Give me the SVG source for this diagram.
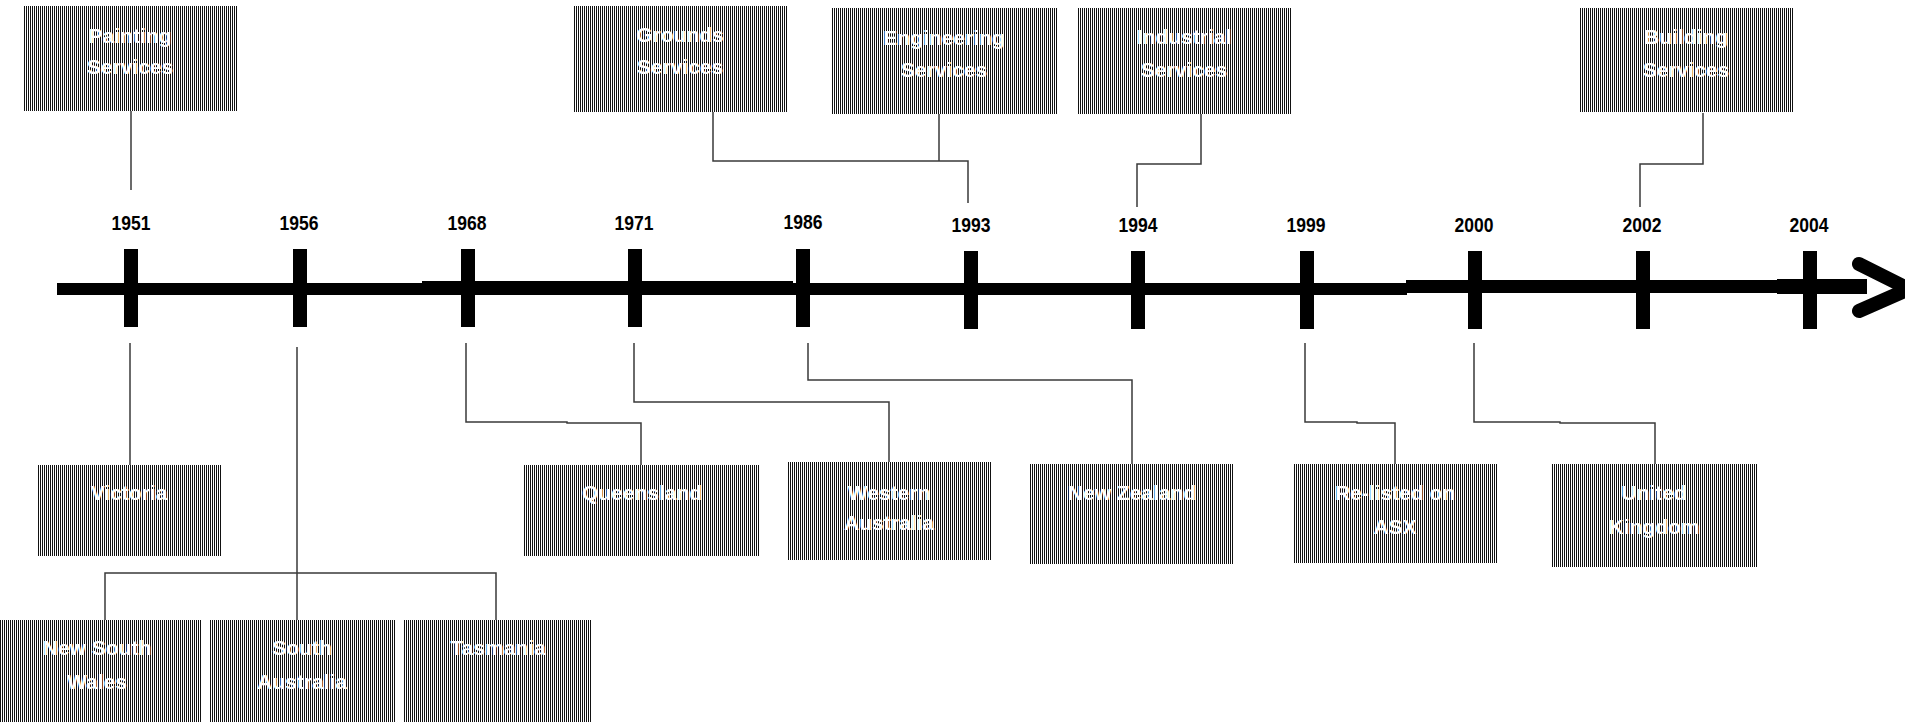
<svg xmlns="http://www.w3.org/2000/svg" width="1905" height="722" viewBox="0 0 1905 722">
<defs>
<pattern id="stripe" width="2" height="4" patternUnits="userSpaceOnUse"><rect width="2" height="4" fill="#fff"/><rect width="1" height="4" fill="#111"/></pattern>
<style>
.box{fill:url(#stripe)}
.bt{font-family:"Liberation Sans",Arial,sans-serif;font-weight:bold;font-size:21px;fill:#fff;text-anchor:middle}
.yr{font-family:"Liberation Sans",Arial,sans-serif;font-weight:bold;font-size:20px;fill:#000;text-anchor:middle}
.con{fill:none;stroke:#3a3a3a;stroke-width:1.5}
.tick{fill:#000}
</style>
</defs>
<rect width="1905" height="722" fill="#fff"/>
<g id="axis">
<rect x="57" y="283" width="366" height="12" fill="#000"/>
<rect x="422" y="281" width="371" height="14" fill="#000"/>
<rect x="792" y="283" width="615" height="12" fill="#000"/>
<rect x="1406" y="280" width="372" height="13" fill="#000"/>
<rect x="1777" y="279" width="90" height="15" fill="#000"/>
<polyline points="1859,264 1909,289 1859,311" fill="none" stroke="#000" stroke-width="14" stroke-linecap="round" stroke-linejoin="round"/>
<rect class="tick" x="124" y="249" width="14" height="78"/>
<rect class="tick" x="293" y="249" width="14" height="78"/>
<rect class="tick" x="461" y="249" width="14" height="78"/>
<rect class="tick" x="628" y="249" width="14" height="78"/>
<rect class="tick" x="796" y="249" width="14" height="78"/>
<rect class="tick" x="964" y="251" width="14" height="78"/>
<rect class="tick" x="1131" y="251" width="14" height="78"/>
<rect class="tick" x="1300" y="251" width="14" height="78"/>
<rect class="tick" x="1468" y="251" width="14" height="78"/>
<rect class="tick" x="1636" y="251" width="14" height="78"/>
<rect class="tick" x="1803" y="251" width="14" height="78"/>
<text class="yr" x="131" y="230" textLength="39" lengthAdjust="spacingAndGlyphs">1951</text>
<text class="yr" x="299" y="230" textLength="39" lengthAdjust="spacingAndGlyphs">1956</text>
<text class="yr" x="467" y="230" textLength="39" lengthAdjust="spacingAndGlyphs">1968</text>
<text class="yr" x="634" y="230" textLength="39" lengthAdjust="spacingAndGlyphs">1971</text>
<text class="yr" x="803" y="229" textLength="39" lengthAdjust="spacingAndGlyphs">1986</text>
<text class="yr" x="971" y="232" textLength="39" lengthAdjust="spacingAndGlyphs">1993</text>
<text class="yr" x="1138" y="232" textLength="39" lengthAdjust="spacingAndGlyphs">1994</text>
<text class="yr" x="1306" y="232" textLength="39" lengthAdjust="spacingAndGlyphs">1999</text>
<text class="yr" x="1474" y="232" textLength="39" lengthAdjust="spacingAndGlyphs">2000</text>
<text class="yr" x="1642" y="232" textLength="39" lengthAdjust="spacingAndGlyphs">2002</text>
<text class="yr" x="1809" y="232" textLength="39" lengthAdjust="spacingAndGlyphs">2004</text>
</g>
<g id="connectors">
<path class="con" d="M131 111 V190"/>
<path class="con" d="M713 112 V161 H968 V203 M939 114 V161"/>
<path class="con" d="M1201 114 V164 H1137 V207"/>
<path class="con" d="M1703 113 V164 H1640 V207"/>
<path class="con" d="M130 343 V465"/>
<path class="con" d="M297 347 V620 M105 620 V573 H496 V620"/>
<path class="con" d="M466 343 V422 H567 V423 H641 V465"/>
<path class="con" d="M634 343 V402 H889 V462"/>
<path class="con" d="M808 343 V380 H1132 V464"/>
<path class="con" d="M1305 343 V422 H1357 V423 H1395 V464"/>
<path class="con" d="M1474 343 V422 H1560 V423 H1655 V464"/>
</g>
<g id="painting"><rect class="box" x="23" y="6" width="214" height="105"/><text class="bt" x="130" y="43">Painting</text><text class="bt" x="130" y="74">Services</text></g>
<g id="grounds"><rect class="box" x="573" y="6" width="214" height="106"/><text class="bt" x="680" y="42">Grounds</text><text class="bt" x="680" y="74">Services</text></g>
<g id="engineering"><rect class="box" x="831" y="8" width="226" height="106"/><text class="bt" x="944" y="45">Engineering</text><text class="bt" x="944" y="77">Services</text></g>
<g id="industrial"><rect class="box" x="1077" y="8" width="214" height="106"/><text class="bt" x="1184" y="44">Industrial</text><text class="bt" x="1184" y="77">Services</text></g>
<g id="building"><rect class="box" x="1579" y="8" width="214" height="104"/><text class="bt" x="1686" y="44">Building</text><text class="bt" x="1686" y="77">Services</text></g>
<g id="victoria"><rect class="box" x="37" y="465" width="184" height="91"/><text class="bt" x="129" y="500">Victoria</text></g>
<g id="queensland"><rect class="box" x="524" y="465" width="236" height="91"/><text class="bt" x="642" y="500">Queensland</text></g>
<g id="western-australia"><rect class="box" x="787" y="462" width="205" height="98"/><text class="bt" x="889" y="500">Western</text><text class="bt" x="889" y="530">Australia</text></g>
<g id="new-zealand"><rect class="box" x="1030" y="464" width="204" height="100"/><text class="bt" x="1132" y="500">New Zealand</text></g>
<g id="asx"><rect class="box" x="1293" y="464" width="204" height="99"/><text class="bt" x="1395" y="500">Re-listed on</text><text class="bt" x="1395" y="534">ASX</text></g>
<g id="uk"><rect class="box" x="1552" y="464" width="205" height="103"/><text class="bt" x="1654" y="500">United</text><text class="bt" x="1654" y="534">Kingdom</text></g>
<g id="nsw"><rect class="box" x="0" y="620" width="201" height="102"/><text class="bt" x="97" y="655">New South</text><text class="bt" x="97" y="689">Wales</text></g>
<g id="south-australia"><rect class="box" x="209" y="620" width="187" height="102"/><text class="bt" x="302" y="655">South</text><text class="bt" x="302" y="689">Australia</text></g>
<g id="tasmania"><rect class="box" x="404" y="620" width="188" height="102"/><text class="bt" x="498" y="655">Tasmania</text></g>
</svg>
